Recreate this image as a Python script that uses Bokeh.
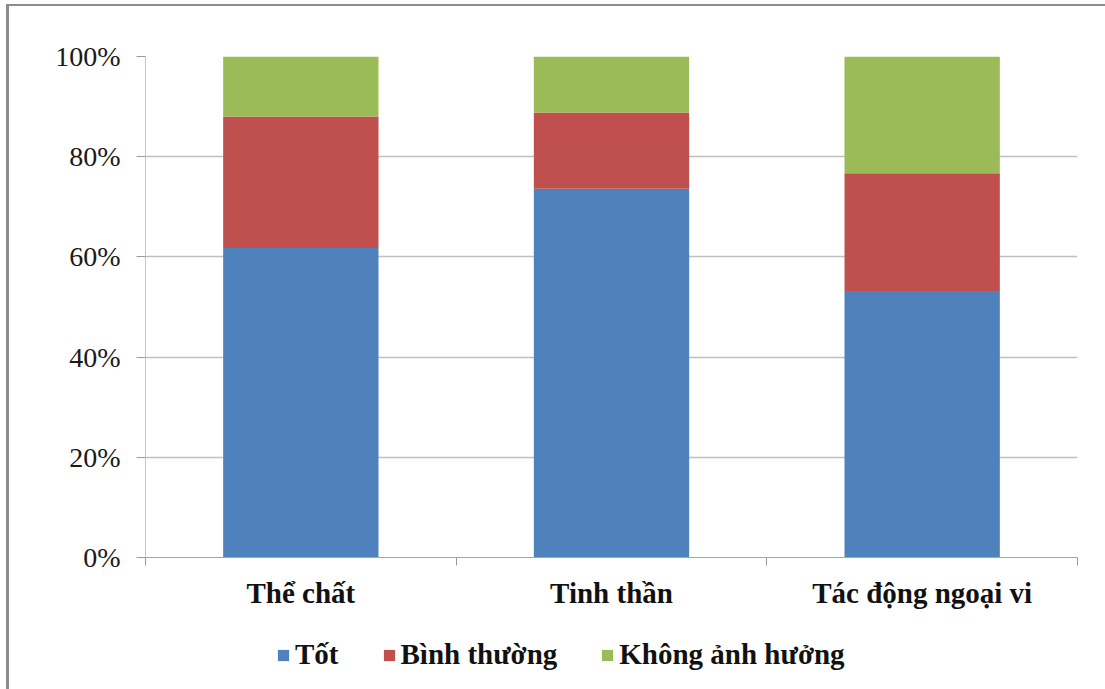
from bokeh.plotting import figure
from bokeh.layouts import column
from bokeh.models import (FixedTicker, Range1d, Legend, LegendItem,
                          CustomJSTickFormatter)
from bokeh.embed import file_html
from bokeh.resources import INLINE

# Survey shares (%) by aspect
categories = ["Thể chất", "Tinh thần", "Tác động ngoại vi"]
series_names = ["Tốt", "Bình thường", "Không ảnh hưởng"]
tot = [61.8, 73.6, 53.2]
binh_thuong = [26.2, 15.2, 23.5]
khong_anh_huong = [12.0, 11.2, 23.3]
y_ticks = [0, 20, 40, 60, 80, 100]

colors = ["#4F81BD", "#C0504D", "#9BBB59"]
SERIF = "Liberation Serif"

x_pos = [i + 0.5 for i in range(len(categories))]
data = {"x": x_pos, "tot": tot, "binh": binh_thuong, "khong": khong_anh_huong}

p = figure(width=1096, height=614, output_backend="svg", toolbar_location=None,
           x_range=Range1d(0, len(categories)), y_range=Range1d(0, 100),
           min_border_left=136, min_border_right=28,
           min_border_top=50, min_border_bottom=63)
p.outline_line_color = None
p.background_fill_color = "white"
p.border_fill_color = "white"

renderers = p.vbar_stack(["tot", "binh", "khong"], x="x", width=0.5, source=data,
                         color=colors, line_color=None)

# y axis: percent ticks
p.yaxis.ticker = FixedTicker(ticks=y_ticks)
p.yaxis.formatter = CustomJSTickFormatter(code="return tick.toFixed(0) + '%';")
p.yaxis.major_label_text_font = SERIF
p.yaxis.major_label_text_font_size = "28px"
p.yaxis.major_label_text_color = "#1a1a1a"
p.yaxis.major_label_standoff = 16
p.yaxis.major_tick_out = 9
p.yaxis.major_tick_in = 0
p.yaxis.minor_tick_line_color = None
p.yaxis.axis_line_color = "#C8C8C8"
p.yaxis.major_tick_line_color = "#9A9A9A"

# x axis: labels at category centres, tick marks at category boundaries
p.xaxis.ticker = FixedTicker(ticks=x_pos, minor_ticks=list(range(len(categories) + 1)))
p.xaxis.major_label_overrides = {x: c for x, c in zip(x_pos, categories)}
p.xaxis.major_label_text_font = SERIF
p.xaxis.major_label_text_font_style = "bold"
p.xaxis.major_label_text_font_size = "29px"
p.xaxis.major_label_text_color = "#111111"
p.xaxis.major_label_standoff = 11
p.xaxis.major_tick_line_color = None
p.xaxis.minor_tick_out = 8
p.xaxis.minor_tick_in = 0
p.xaxis.minor_tick_line_color = "#9A9A9A"
p.xaxis.axis_line_color = "#A6A6A6"

p.xgrid.grid_line_color = None
p.ygrid.ticker = FixedTicker(ticks=y_ticks)
p.ygrid.grid_line_color = "#C0C0C0"
p.ygrid.grid_line_width = 1.5

# legend strip under the chart (its frame is aligned with the chart's frame)
leg = figure(width=1096, height=69, output_backend="svg", toolbar_location=None,
             x_range=Range1d(0, 1), y_range=Range1d(0, 1),
             min_border=0, min_border_left=0, min_border_right=0,
             min_border_top=0, min_border_bottom=0)
leg.axis.visible = False
leg.grid.grid_line_color = None
leg.outline_line_color = None
nan = float("nan")
leg_renderers = [leg.vbar(x=[nan], top=[nan], width=0.1, color=c, line_color=None)
                 for c in colors]

legend = Legend(items=[LegendItem(label=n, renderers=[r]) for n, r in zip(series_names, leg_renderers)],
                orientation="horizontal", location=(131, 18),
                padding=0, margin=0, spacing=43, label_standoff=5,
                glyph_width=14, glyph_height=14,
                label_text_font=SERIF, label_text_font_style="bold",
                label_text_font_size="29px", label_text_color="#111111",
                border_line_color=None, background_fill_alpha=0)
leg.add_layout(legend, "center")

page = column(p, leg, spacing=0)
page.styles = {"border-left": "3px solid #8C8C8C", "border-top": "2px solid #8C8C8C",
               "margin-left": "6px", "margin-top": "4px"}

open("out.html", "w").write(file_html(page, INLINE))
